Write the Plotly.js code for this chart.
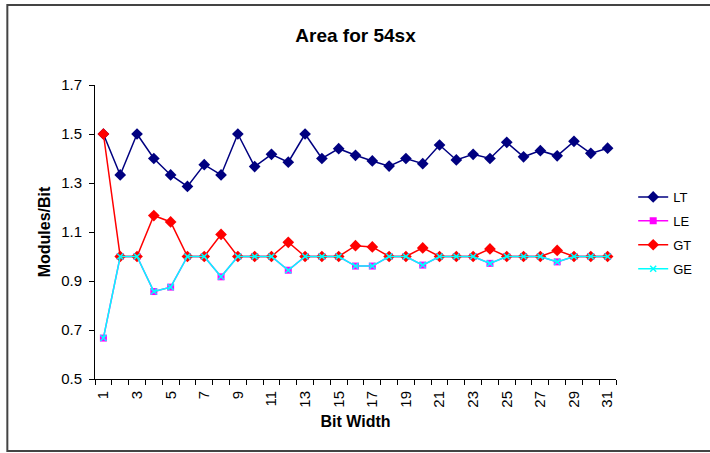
<!DOCTYPE html>
<html>
<head>
<meta charset="utf-8">
<script src="https://cdn.plot.ly/plotly-3.0.1.min.js"></script>
<style>
html,body{margin:0;padding:0;background:#fff;}
#chart{width:710px;height:453px;}
</style>
</head>
<body>
<div id="chart"></div>
<script>
var bitWidth = [1,2,3,4,5,6,7,8,9,10,11,12,13,14,15,16,17,18,19,20,21,22,23,24,25,26,27,28,29,30,31];
var LT = [1.5,1.333,1.5,1.4,1.333,1.286,1.375,1.333,1.5,1.367,1.417,1.385,1.5,1.4,1.44,1.413,1.39,1.369,1.4,1.379,1.455,1.394,1.417,1.4,1.466,1.407,1.432,1.411,1.47,1.421,1.442];
var LE = [0.667,1,1,0.857,0.875,1,1,0.917,1,1,1,0.944,1,1,1,0.961,0.961,1,1,0.965,1,1,1,0.972,1,1,1,0.978,1,1,1];
var GT = [1.5,1,1,1.167,1.141,1,1,1.09,1,1,1,1.058,1,1,1,1.044,1.039,1,1,1.035,1,1,1,1.031,1,1,1,1.025,1,1,1];
var GE = [0.667,1,1,0.857,0.875,1,1,0.917,1,1,1,0.944,1,1,1,0.961,0.961,1,1,0.965,1,1,1,0.972,1,1,1,0.978,1,1,1];
var xTickVals = [1,3,5,7,9,11,13,15,17,19,21,23,25,27,29,31];
var xTickText = ["1","3","5","7","9","11","13","15","17","19","21","23","25","27","29","31"];
var yTickVals = [0.5,0.7,0.9,1.1,1.3,1.5,1.7];

var FONT = "Liberation Sans, Arial, sans-serif";
var boundaries = [0].concat(bitWidth).map(function(v){return v+0.5;});

var traces = [
  {x: bitWidth, y: LT, name: "LT", mode: "lines+markers", legendgroup: "a",
   line: {color: "#000080", width: 1.5}, marker: {symbol: "diamond", size: 9, color: "#000080"}},
  {x: bitWidth, y: LE, name: "LE", mode: "lines+markers", legendgroup: "b",
   line: {color: "#FF00FF", width: 1.5}, marker: {symbol: "square", size: 7, color: "#FF00FF"}},
  {x: bitWidth, y: GT, name: "GT", mode: "lines+markers", legendgroup: "c",
   line: {color: "#FF0000", width: 1.5}, marker: {symbol: "diamond", size: 9, color: "#FF0000"}},
  {x: bitWidth, y: GE, name: "GE", mode: "lines+markers", legendgroup: "d",
   line: {color: "#00FFFF", width: 1.5}, marker: {symbol: "x-thin", size: 6, color: "#00FFFF", line: {color: "#00FFFF", width: 1.5}}},
  {x: [boundaries[0]], y: [0.5], xaxis: "x2", mode: "markers", showlegend: false, hoverinfo: "skip",
   marker: {opacity: 0}}
];

var layout = {
  width: 710, height: 453,
  margin: {l: 95, r: 92, t: 85, b: 74},
  paper_bgcolor: "#fff", plot_bgcolor: "#fff",
  font: {family: FONT, color: "#000"},
  title: {text: "<b>Area for 54sx</b>", font: {size: 19, family: FONT, color: "#000"}, x: 0.5, xref: "paper", xanchor: "center", y: 1 - 35/453, yanchor: "middle"},
  xaxis: {
    range: [0.5, 31.5], tickmode: "array", tickvals: xTickVals, ticktext: xTickText,
    tickangle: -90, ticks: "outside", ticklen: 5, tickcolor: "rgba(0,0,0,0)",
    tickfont: {size: 15, family: FONT}, showgrid: false, zeroline: false,
    showline: true, linecolor: "#000", linewidth: 1,
    title: {text: "<b>Bit Width</b>", font: {size: 16, family: FONT}, standoff: 9}
  },
  xaxis2: {
    overlaying: "x", anchor: "y", side: "bottom", range: [0.5, 31.5],
    tickmode: "array", tickvals: boundaries, ticks: "outside", ticklen: 5, tickcolor: "#000",
    showticklabels: false, showgrid: false, zeroline: false, showline: false
  },
  yaxis: {
    range: [0.5, 1.7], tickmode: "array", tickvals: yTickVals, tickformat: ".1f",
    ticks: "outside", ticklen: 5, tickcolor: "#000", ticklabelstandoff: 4,
    tickfont: {size: 15, family: FONT}, showgrid: false, zeroline: false,
    showline: true, linecolor: "#000", linewidth: 1,
    title: {text: "<b>Modules/Bit</b>", font: {size: 16, family: FONT}, standoff: 6}
  },
  legend: {
    x: 1.033, y: 0.670, xanchor: "left", yanchor: "top",
    font: {size: 13, family: FONT}, bgcolor: "rgba(0,0,0,0)", borderwidth: 0,
    tracegroupgap: 4, traceorder: "grouped"
  },
  showlegend: true,
  shapes: [
    {type: "rect", xref: "paper", yref: "paper",
     x0: (7-95)/523, x1: (720-95)/523, y0: (379-451)/294, y1: (379-5)/294,
     line: {color: "#444", width: 2}, fillcolor: "rgba(0,0,0,0)", layer: "below"}
  ]
};

Plotly.newPlot("chart", traces, layout, {displayModeBar: false, staticPlot: true});
</script>
</body>
</html>
